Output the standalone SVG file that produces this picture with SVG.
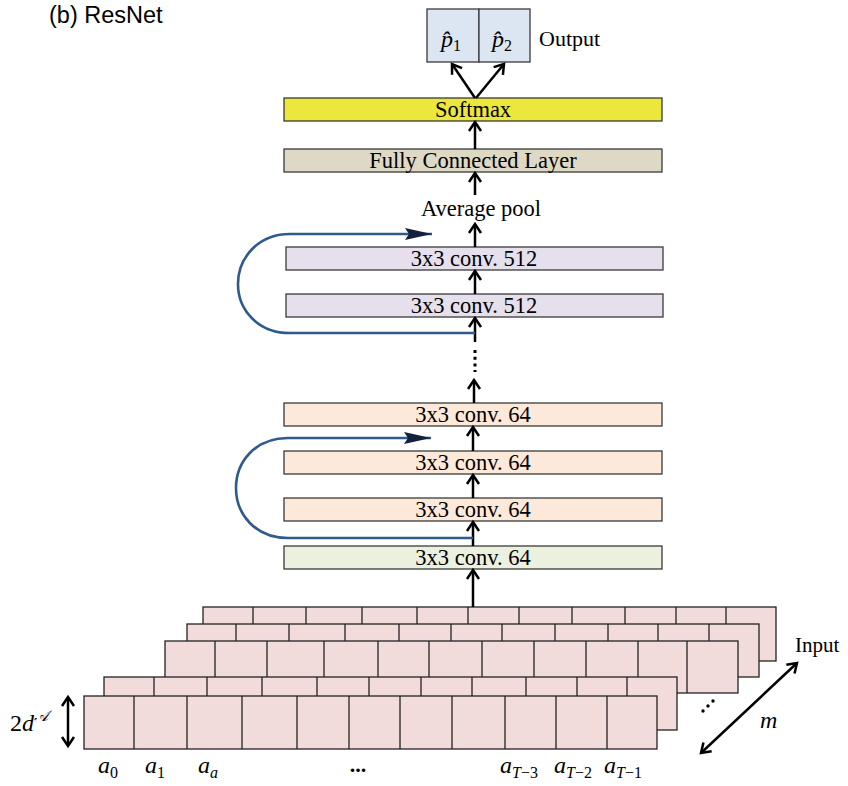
<svg xmlns="http://www.w3.org/2000/svg" width="848" height="786" viewBox="0 0 848 786">
<style>
.box{stroke:#3a3a3a;stroke-width:1.3}
.lbl{font-family:"Liberation Serif",serif;font-size:22.5px;fill:#000;text-anchor:middle}
.math{font-family:"Liberation Serif",serif;font-style:italic;font-size:24px;fill:#000}
.sub{font-style:normal;font-size:16px}
.cell{fill:#f2dcdb;stroke:#222;stroke-width:1.3}
.grid{fill:none;stroke:#222;stroke-width:1.3}
.arr{fill:none;stroke:#000;stroke-width:2.5;marker-end:url(#ah)}
.skip{fill:none;stroke:#2e5a8e;stroke-width:2.6;marker-end:url(#bh)}
</style>
<defs>
<marker id="ah" markerUnits="userSpaceOnUse" markerWidth="16" markerHeight="16" refX="12" refY="8" orient="auto">
<path d="M3,2 L12,8 L3,14" fill="none" stroke="#000" stroke-width="2.5"/>
</marker>
<marker id="bh" markerUnits="userSpaceOnUse" markerWidth="30" markerHeight="14" refX="28" refY="7" orient="auto">
<path d="M1,1 L28,7 L1,13 L5,7 z" fill="#13213d"/>
</marker>
<marker id="dh" markerUnits="userSpaceOnUse" markerWidth="16" markerHeight="16" refX="12" refY="8" orient="auto-start-reverse">
<path d="M3,2 L12,8 L3,14" fill="none" stroke="#000" stroke-width="2.5"/>
</marker>
</defs>

<text x="49" y="23" font-family="Liberation Sans, Arial, sans-serif" font-size="23.5">(b) ResNet</text>

<g id="output">
<rect class="box" x="427" y="9" width="52" height="53" fill="#dce6f2"/>
<rect class="box" x="479" y="9" width="51" height="53" fill="#dce6f2"/>
<text class="math" x="441" y="47">p̂<tspan class="sub" dy="4">1</tspan></text>
<text class="math" x="492" y="47">p̂<tspan class="sub" dy="4">2</tspan></text>
<text x="539" y="46" font-family="Liberation Serif, serif" font-size="22">Output</text>
</g>

<g id="softmax">
<rect class="box" x="284" y="98" width="378" height="23" fill="#ebe73c"/>
<text class="lbl" x="473" y="116.5">Softmax</text>
</g>
<g id="fc">
<rect class="box" x="284" y="149" width="378" height="23" fill="#ddd9c4"/>
<text class="lbl" x="473" y="167.5">Fully Connected Layer</text>
</g>
<g id="avgpool">
<text class="lbl" x="481" y="215.5">Average pool</text>
</g>
<g id="conv512a">
<rect class="box" x="286" y="247" width="377" height="23" fill="#e5e0ec"/>
<text class="lbl" x="474" y="265.5">3x3 conv. 512</text>
</g>
<g id="conv512b">
<rect class="box" x="286" y="294" width="377" height="23" fill="#e5e0ec"/>
<text class="lbl" x="474" y="312.5">3x3 conv. 512</text>
</g>
<g id="conv64a">
<rect class="box" x="284" y="403" width="378" height="23" fill="#fde9d9"/>
<text class="lbl" x="473" y="421.5">3x3 conv. 64</text>
</g>
<g id="conv64b">
<rect class="box" x="284" y="451" width="378" height="23" fill="#fde9d9"/>
<text class="lbl" x="473" y="469.5">3x3 conv. 64</text>
</g>
<g id="conv64c">
<rect class="box" x="284" y="498" width="378" height="23" fill="#fde9d9"/>
<text class="lbl" x="473" y="516.5">3x3 conv. 64</text>
</g>
<g id="conv64d">
<rect class="box" x="284" y="546" width="378" height="23" fill="#ebf1de"/>
<text class="lbl" x="473" y="564.5">3x3 conv. 64</text>
</g>

<g id="input">
<rect class="cell" x="203" y="607" width="573" height="54"/>
<path class="grid" d="M253,607V661M306,607V661M362,607V661M417,607V661M468,607V661M519,607V661M572,607V661M625,607V661M676,607V661M726,607V661"/>
<rect class="cell" x="187" y="624" width="572" height="53"/>
<path class="grid" d="M236,624V677M289,624V677M345,624V677M399,624V677M451,624V677M502,624V677M555,624V677M608,624V677M658,624V677M709,624V677"/>
<rect class="cell" x="165" y="641" width="573" height="52"/>
<path class="grid" d="M215,641V693M267,641V693M324,641V693M378,641V693M429,641V693M482,641V693M534,641V693M586,641V693M638,641V693M687,641V693"/>
<rect class="cell" x="104" y="677" width="573" height="53"/>
<path class="grid" d="M154,677V730M207,677V730M262,677V730M317,677V730M369,677V730M421,677V730M472,677V730M526,677V730M577,677V730M627,677V730"/>
<rect class="cell" x="84" y="696" width="573" height="53"/>
<path class="grid" d="M134,696V749M187,696V749M242,696V749M297,696V749M349,696V749M400,696V749M452,696V749M505,696V749M556,696V749M607,696V749"/>
<text x="795" y="652" font-family="Liberation Serif, serif" font-size="21">Input</text>
<text class="math" x="760" y="728">m</text>
<text class="math" x="10" y="731"><tspan font-style="normal">2</tspan>d<tspan font-size="15" dy="-10">𝒜</tspan></text>
<g fill="#000">
<circle cx="703" cy="711" r="1.7"/><circle cx="708" cy="706" r="1.7"/><circle cx="713" cy="701" r="1.7"/>
</g>
<text class="math" x="98" y="773">a<tspan class="sub" dy="5">0</tspan></text>
<text class="math" x="145" y="773">a<tspan class="sub" dy="5">1</tspan></text>
<text class="math" x="198" y="773">a<tspan font-size="16" dy="5">a</tspan></text>
<text x="358" y="772" font-family="Liberation Serif, serif" font-size="22" font-weight="bold" text-anchor="middle">...</text>
<text class="math" x="500" y="773">a<tspan font-size="16" dy="5">T</tspan><tspan class="sub">−3</tspan></text>
<text class="math" x="554" y="773">a<tspan font-size="16" dy="5">T</tspan><tspan class="sub">−2</tspan></text>
<text class="math" x="604" y="773">a<tspan font-size="16" dy="5">T</tspan><tspan class="sub">−1</tspan></text>
</g>

<g id="connectors">
<path class="arr" d="M475,98 L452,64"/>
<path class="arr" d="M476,98 L504,64"/>
<path class="arr" d="M475,149 V122"/>
<path class="arr" d="M475,195 V173"/>
<path class="arr" d="M475,247 V224"/>
<path class="arr" d="M475,294 V271"/>
<path class="arr" d="M475,342 V318"/>
<path d="M475,350 V372" stroke="#000" stroke-width="3" stroke-dasharray="3,3.7" fill="none"/>
<path class="arr" d="M474,403 V380"/>
<path class="arr" d="M473,451 V427"/>
<path class="arr" d="M473,498 V475"/>
<path class="arr" d="M473,546 V522"/>
<path class="arr" d="M473,607 V570"/>
<path class="skip" d="M475,333 H290 C258,333 238,310 238,284 C238,258 258,234 290,234 H432"/>
<path class="skip" d="M473,538 H288 C255,538 236,514 236,488 C236,462 255,438 288,438 H431"/>
<path d="M68,697 V746" fill="none" stroke="#000" stroke-width="2.5" marker-start="url(#dh)" marker-end="url(#dh)"/>
<path d="M701,753 L797,663" fill="none" stroke="#000" stroke-width="2.5" marker-start="url(#dh)" marker-end="url(#dh)"/>
</g>
</svg>
